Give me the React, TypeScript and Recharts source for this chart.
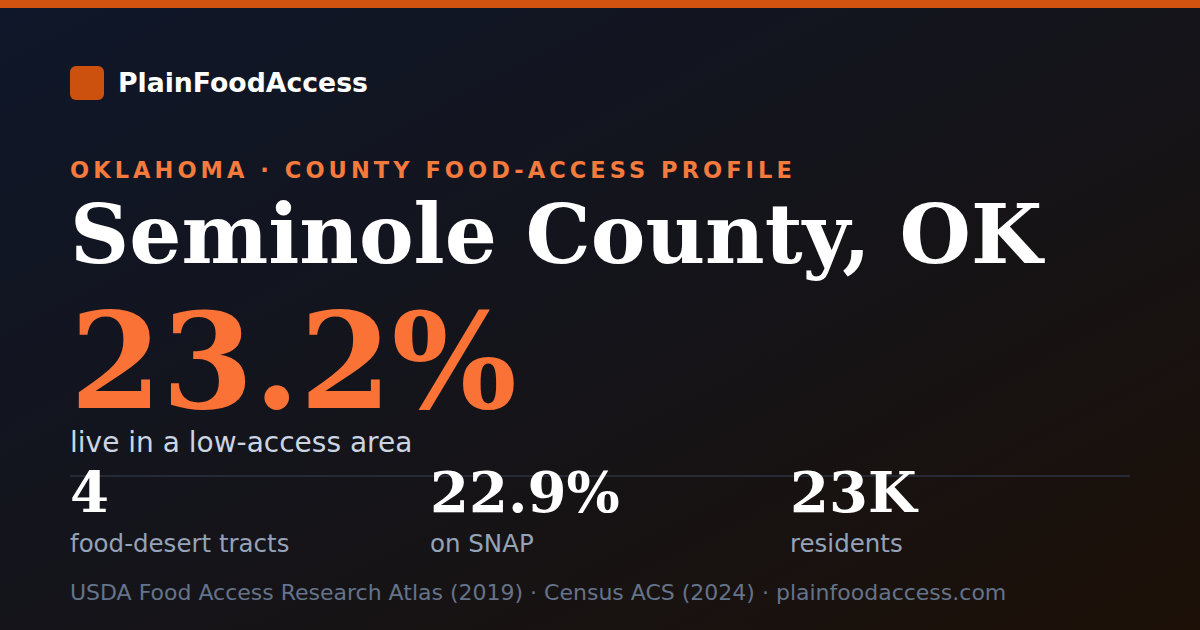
import React from 'react';
import { Surface, Rectangle, Text } from 'recharts';

const brand = 'PlainFoodAccess';
const kicker = 'OKLAHOMA · COUNTY FOOD-ACCESS PROFILE';
const county = 'Seminole County, OK';
const headlineValue = '23.2%';
const headlineLabel = 'live in a low-access area';
const statValues = ['4', '22.9%', '23K'];
const statLabels = ['food-desert tracts', 'on SNAP', 'residents'];
const sources = 'USDA Food Access Research Atlas (2019) · Census ACS (2024) · plainfoodaccess.com';

const W = 1200;
const H = 630;
const SANS = '"DejaVu Sans", sans-serif';
const SERIF = '"DejaVu Serif", serif';

export default function App() {
  return (
    <div style={{ width: W, height: H }}>
      <style>{'body{margin:0}'}</style>
      <Surface width={W} height={H}>
        <defs>
          <linearGradient id="bg" x1="0" y1="0" x2="1" y2="1">
            <stop offset="0%" stopColor="#0f172a" />
            <stop offset="50%" stopColor="#14141a" />
            <stop offset="100%" stopColor="#1c1007" />
          </linearGradient>
        </defs>
        <Rectangle x={0} y={0} width={W} height={H} fill="url(#bg)" />
        <Rectangle x={0} y={0} width={W} height={8} fill="#d2520f" />

        {/* brand */}
        <Rectangle x={70} y={66} width={34} height={34} radius={6} fill="#cc500e" />
        <Text x={118} y={92} fontFamily={SANS} fontWeight={700} fontSize={26.7} fill="#ffffff">
          {brand}
        </Text>

        <Text x={70} y={178} fontFamily={SANS} fontWeight={700} fontSize={22.5} letterSpacing={4.05} fill="#f47a3d">
          {kicker}
        </Text>
        <Text x={70} y={263} fontFamily={SERIF} fontWeight={700} fontSize={82} fill="#ffffff">
          {county}
        </Text>
        <Text x={70} y={408} fontFamily={SERIF} fontWeight={700} fontSize={132} fill="#fb7236">
          {headlineValue}
        </Text>
        <Text x={70} y={452} fontFamily={SANS} fontSize={28} fill="#cbd5e1">
          {headlineLabel}
        </Text>

        <line x1={70} x2={1130} y1={476} y2={476} stroke="#262a35" strokeWidth={2} />

        {statValues.map((v, i) => (
          <g key={v}>
            <Text x={70 + i * 360} y={512} fontFamily={SERIF} fontWeight={700} fontSize={56} fill="#ffffff">
              {v}
            </Text>
            <Text x={70 + i * 360} y={552} fontFamily={SANS} fontSize={24.5} fill="#94a3b8">
              {statLabels[i]}
            </Text>
          </g>
        ))}

        <Text x={70} y={600} fontFamily={SANS} fontSize={22} fill="#64748b">
          {sources}
        </Text>
      </Surface>
    </div>
  );
}
